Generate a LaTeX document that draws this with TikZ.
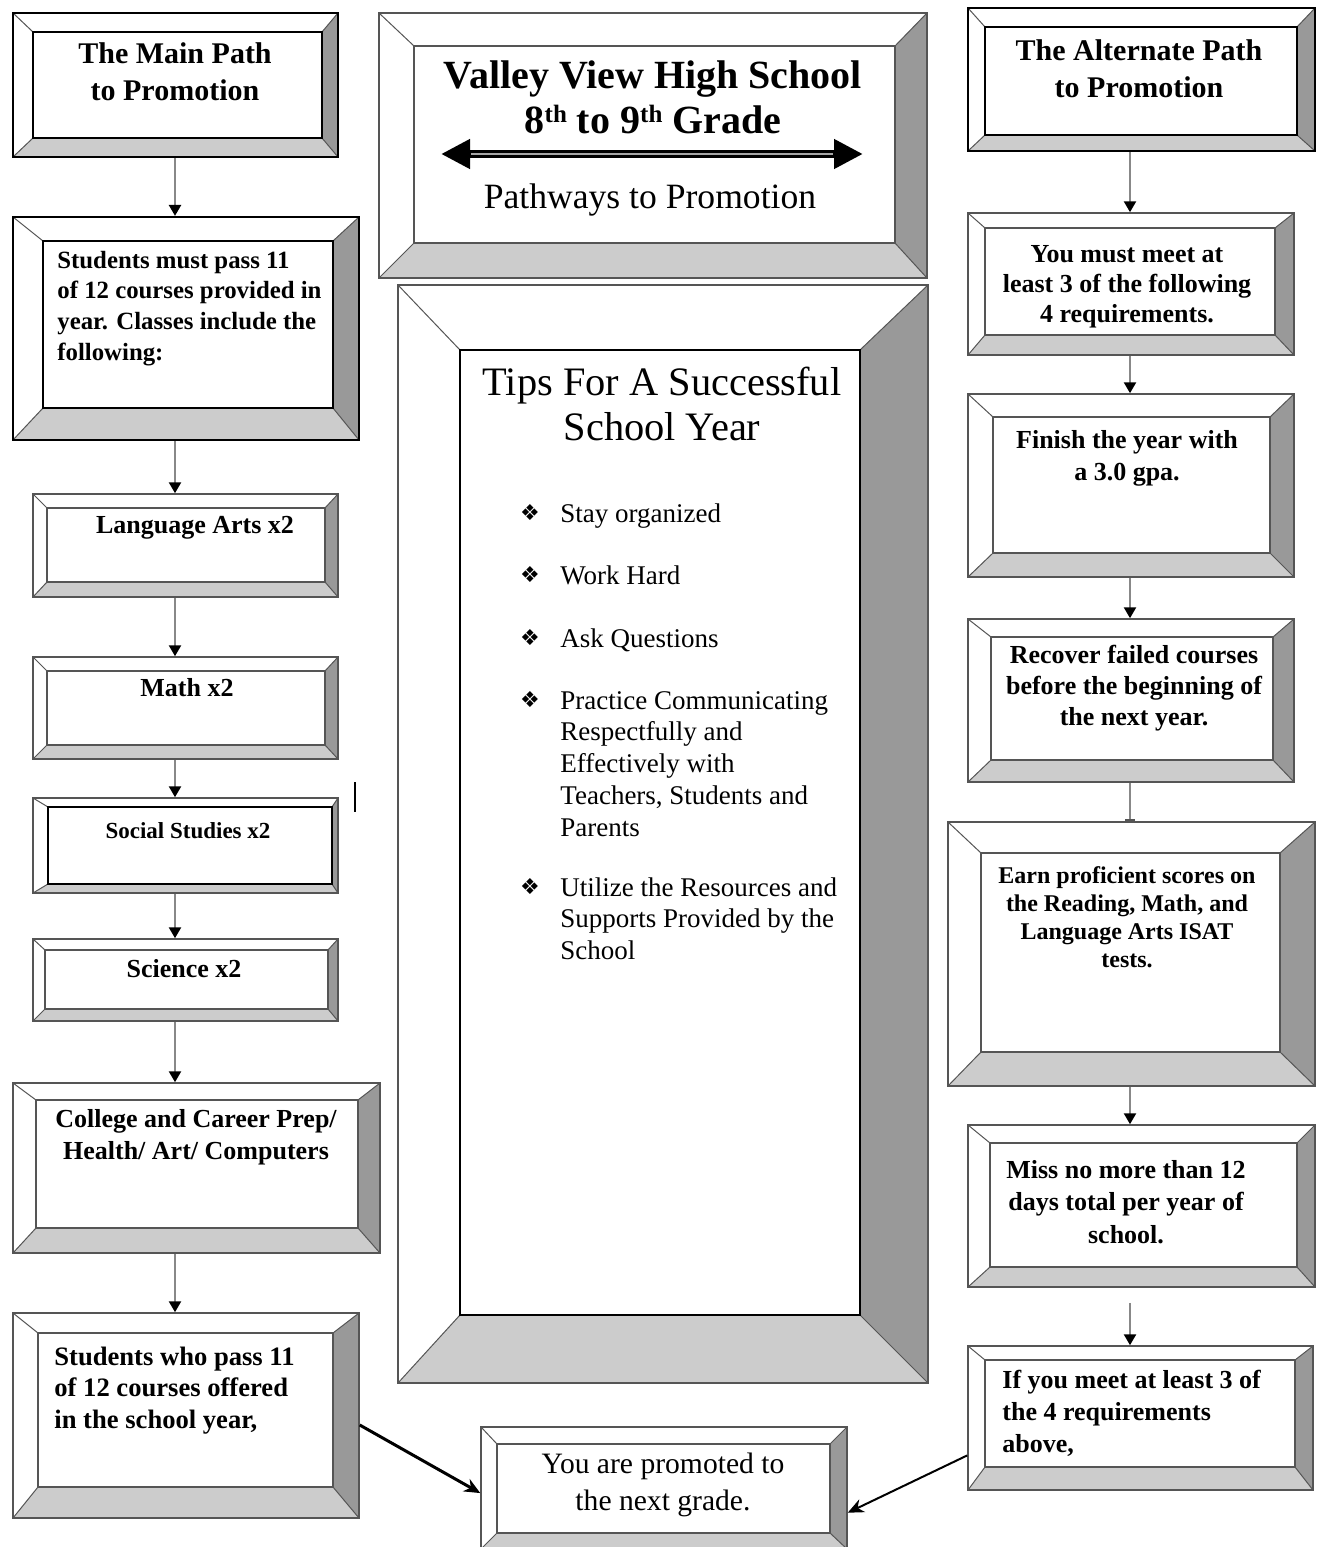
\documentclass[tikz,border=0pt]{standalone}
\usepackage{fontspec}
\setmainfont{Liberation Serif}
\newfontfamily\dejavu{DejaVu Sans}
\usetikzlibrary{arrows.meta,fit,calc}
\definecolor{bevdark}{HTML}{999999}
\definecolor{bevlight}{HTML}{CCCCCC}
\definecolor{edgegray}{HTML}{555555}
\definecolor{conngray}{HTML}{888888}
\newcommand\txtlines[2]{\begin{tabular}[t]{@{}#1@{}}#2\end{tabular}}
\newcommand\fsz[2]{\fontsize{#1}{#2}\selectfont}
\newcommand\supth{\raisebox{0.55ex}{\fsz{12.5}{13}th}}
\tikzset{
 outerline/.style={draw=edgegray, line width=0.75pt},
 innerline/.style={draw=edgegray, line width=0.6pt},
 bevedge/.style={draw=edgegray, line width=0.5pt},
 heavy/.style={outerline/.style={draw=black,line width=1.1pt}, innerline/.style={draw=black,line width=0.8pt}},
 darkinner/.style={innerline/.style={draw=black,line width=0.8pt}},
 thickinner/.style={innerline/.style={draw=black,line width=1.1pt}},
 conn/.style={draw=conngray, line width=1.2pt, -{Triangle[length=5.5pt,width=6pt,color=black]}},
 diag/.style={draw=black, -{Stealth[length=8pt,width=7pt]}},
 lbl/.style={inner sep=0pt, anchor=base},
 boldtxt/.style={font=\bfseries\fsz{13}{15.4}},
}
\newcommand\bevelbox[6][]{%
 \begin{scope}[#1]
 \coordinate (#2oa) at (#3); \coordinate (#2ob) at (#4);
 \coordinate (#2ia) at (#5); \coordinate (#2ib) at (#6);
 \fill[white] (#2oa) rectangle (#2ob);
 \fill[bevdark] (#2oa -| #2ob) -- (#2ob) -- (#2ib) -- (#2ia -| #2ib) -- cycle;
 \fill[bevlight] (#2oa |- #2ob) -- (#2ob) -- (#2ib) -- (#2ia |- #2ib) -- cycle;
 \draw[bevedge] (#2oa) -- (#2ia) (#2oa -| #2ob) -- (#2ia -| #2ib) (#2oa |- #2ob) -- (#2ia |- #2ib) (#2ob) -- (#2ib);
 \draw[innerline] (#2ia) rectangle (#2ib);
 \node[outerline, fit=(#2oa)(#2ob), inner sep=0pt] (#2) {};
 \end{scope}}
\begin{document}
\begin{tikzpicture}[x=0.5pt,y=-0.5pt]
\useasboundingbox (0,0) rectangle (1318,1547);
% ---- boxes
\bevelbox[heavy]{main}{13,13}{338,157}{33,32}{322,138}
\bevelbox{title}{379,13}{927,278}{414,46}{895,243}
\bevelbox[darkinner]{tips}{398,285}{928,1383}{460,350}{860,1315}
\bevelbox[heavy]{req}{13,217}{359,440}{43,241}{333,408}
\bevelbox{lang}{33,494}{338,597}{47,508}{325,582}
\bevelbox{math}{33,657}{338,759}{47,671}{325,745}
\bevelbox[thickinner]{soc}{33,798}{338,893}{48,807}{332,884}
\bevelbox{sci}{33,939}{338,1021}{45,950}{328,1009}
\bevelbox{coll}{13,1083}{380,1253}{36,1100}{358,1228}
\bevelbox{pass}{13,1313}{359,1518}{38,1333}{333,1487}
\bevelbox{prom}{481,1427}{847,1549}{497,1444}{830,1533}
\bevelbox[heavy]{alt}{968,8}{1315,151}{985,27}{1297,135}
\bevelbox{meet}{968,213}{1294,355}{985,228}{1275,335}
\bevelbox{gpa}{968,394}{1294,577}{993,417}{1270,553}
\bevelbox{recov}{968,619}{1294,782}{991,637}{1273,760}
\bevelbox{earn}{948,822}{1315,1086}{981,853}{1280,1052}
\bevelbox{miss}{968,1125}{1315,1287}{990,1143}{1297,1267}
\bevelbox{ifm}{968,1346}{1313,1490}{985,1360}{1295,1467}
% ---- title
\node[lbl, font=\bfseries\fsz{20}{22.5}] (titleT) at (653,88) {\txtlines{c}{Valley View High School\\8\supth{} to 9\supth{} Grade}};
\coordinate (arrL) at (441,154);
\coordinate (arrR) at (863,154);
\draw[line width=4pt, {Triangle[length=14.5pt,width=14pt]}-{Triangle[length=14.5pt,width=14pt]}] (arrL) -- (arrR);
\draw[line width=0.9pt, gray!70] ($(arrL)+(30,0)$) -- ($(arrR)+(-30,0)$);
\node[lbl, font=\fsz{17.8}{20}] (pathT) at (650,208) {Pathways to Promotion};
% ---- tips
\node[lbl, font=\fsz{20.2}{22.5}] (tipsT) at (662,395) {\txtlines{c}{Tips For A Successful\\School Year}};
\begin{scope}[every node/.style={inner sep=0pt}]
\node[anchor=base, font=\dejavu\fsz{11}{13}] (b1) at (530,520) {❖};
\node[anchor=base west, font=\fsz{13.5}{15.9}] (t1) at (560,522) {Stay organized};
\node[anchor=base, font=\dejavu\fsz{11}{13}] (b2) at (530,582) {❖};
\node[anchor=base west, font=\fsz{13.5}{15.9}] (t2) at (560,584) {Work Hard};
\node[anchor=base, font=\dejavu\fsz{11}{13}] (b3) at (530,645) {❖};
\node[anchor=base west, font=\fsz{13.5}{15.9}] (t3) at (560,647) {Ask Questions};
\node[anchor=base, font=\dejavu\fsz{11}{13}] (b4) at (530,707) {❖};
\node[anchor=base west, font=\fsz{13.5}{15.9}] (t4) at (560,709) {\txtlines{l}{Practice Communicating\\Respectfully and\\Effectively with\\Teachers, Students and\\Parents}};
\node[anchor=base, font=\dejavu\fsz{11}{13}] (b5) at (530,894) {❖};
\node[anchor=base west, font=\fsz{13.5}{15.9}] (t5) at (560,896) {\txtlines{l}{Utilize the Resources and\\Supports Provided by the\\School}};
\end{scope}
% ---- left column texts
\node[lbl, font=\bfseries\fsz{15}{18.5}] (mainT) at (175,63) {\txtlines{c}{The Main Path\\to Promotion}};
\node[lbl, anchor=base west, font=\bfseries\fsz{12.4}{15.4}] (reqT) at (57,268) {\txtlines{l}{Students must pass 11\\of 12 courses provided in\\year. Classes include the\\following:}};
\node[lbl, boldtxt] (langT) at (195,533) {Language Arts x2};
\node[lbl, boldtxt] (mathT) at (187,696) {Math x2};
\node[lbl, font=\bfseries\fsz{11.5}{14}] (socT) at (188,838) {Social Studies x2};
\node[lbl, boldtxt] (sciT) at (184,977) {Science x2};
\node[lbl, font=\bfseries\fsz{13}{16}] (collT) at (196,1127) {\txtlines{c}{College and Career Prep/\\Health/ Art/ Computers}};
\node[lbl, anchor=base west, font=\bfseries\fsz{13.3}{15.75}] (passT) at (54,1365) {\txtlines{l}{Students who pass 11\\of 12 courses offered\\in the school year,}};
\node[lbl, font=\fsz{14.8}{18.5}] (promT) at (663,1473) {\txtlines{c}{You are promoted to\\the next grade.}};
% ---- right column texts
\node[lbl, font=\bfseries\fsz{15}{18.5}] (altT) at (1139,60) {\txtlines{c}{The Alternate Path\\to Promotion}};
\node[lbl, font=\bfseries\fsz{13}{15}] (meetT) at (1127,262) {\txtlines{c}{You must meet at\\least 3 of the following\\4 requirements.}};
\node[lbl, font=\bfseries\fsz{13}{16}] (gpaT) at (1127,448) {\txtlines{c}{Finish the year with\\a 3.0 gpa.}};
\node[lbl, font=\bfseries\fsz{13}{15.5}] (recovT) at (1134,663) {\txtlines{c}{Recover failed courses\\before the beginning of\\the next year.}};
\node[lbl, font=\bfseries\fsz{12}{14}] (earnT) at (1127,883) {\txtlines{c}{Earn proficient scores on\\the Reading, Math, and\\Language Arts ISAT\\tests.}};
\node[lbl, font=\bfseries\fsz{13}{16.25}] (missT) at (1126,1178) {\txtlines{c}{Miss no more than 12\\days total per year of\\school.}};
\node[lbl, anchor=base west, font=\bfseries\fsz{13}{16}] (ifmT) at (1002,1388) {\txtlines{l}{If you meet at least 3 of\\the 4 requirements\\above,}};
% ---- connectors
\coordinate (L) at (175,0);
\coordinate (R) at (1130,0);
\draw[conn] (main.south -| L) -- (req.north -| L);
\draw[conn] (req.south -| L) -- (lang.north -| L);
\draw[conn] (lang.south -| L) -- (math.north -| L);
\draw[conn] (math.south -| L) -- (soc.north -| L);
\draw[conn] (soc.south -| L) -- (sci.north -| L);
\draw[conn] (sci.south -| L) -- (coll.north -| L);
\draw[conn] (coll.south -| L) -- (pass.north -| L);
\draw[conn] (alt.south -| R) -- (meet.north -| R);
\draw[conn] (meet.south -| R) -- (gpa.north -| R);
\draw[conn] (gpa.south -| R) -- (recov.north -| R);
\draw[conn, -{Bar[width=5pt,color=edgegray]}] (recov.south -| R) -- (earn.north -| R);
\draw[conn] (earn.south -| R) -- (miss.north -| R);
\draw[conn] ($(miss.south -| R)+(0,15)$) -- (ifm.north -| R);
\draw[diag, line width=1.5pt] ($(pass.north east)!0.546!(pass.south east)$) -- ($(prom.north west)!0.541!(prom.south west)$);
\draw[diag, line width=1pt] ($(ifm.north west)!0.757!(ifm.south west)$) -- ($(prom.north east)!0.70!(prom.south east)$);
% ---- stray mark
\coordinate (mkA) at (355,782);
\coordinate (mkB) at (355,812);
\draw[black, line width=0.6pt] (mkA) -- (mkB);
\end{tikzpicture}
\end{document}
